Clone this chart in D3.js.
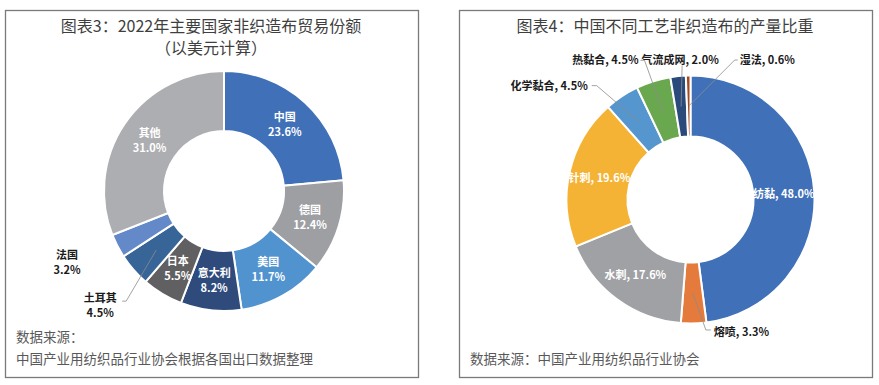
<!DOCTYPE html>
<html>
<head>
<meta charset="utf-8">
<script src="https://cdn.jsdelivr.net/npm/d3@7"></script>
<style>
  html, body { margin: 0; padding: 0; background: #fff; }
  svg { display: block; font-family: "Noto Sans CJK SC", "Noto Sans", sans-serif; }
</style>
</head>
<body>
<svg id="chart" width="879" height="385"></svg>
<script>
// chart 3: trade share by country
var tradeCountries = ['中国', '德国', '美国', '意大利', '日本', '土耳其', '法国', '其他'];
var tradeShares = [23.6, 12.4, 11.7, 8.2, 5.5, 4.5, 3.2, 31.0];

// chart 4: output share by process
var processNames = ['纺黏', '熔喷', '水刺', '针刺', '化学黏合', '热黏合', '气流成网', '湿法'];
var processShares = [48.0, 3.3, 17.6, 19.6, 4.5, 4.5, 2.0, 0.6];

var tradeColors = ['#3f70b8', '#9e9fa3', '#5193cf', '#2e4b7c', '#606062', '#376597', '#6389c9', '#adaeb1'];
var processColors = ['#3f70b8', '#e47a3b', '#a0a1a5', '#f5b335', '#5596cf', '#6aa84f', '#2b4a7c', '#a24a1c'];

var svg = d3.select('#chart');

// panel frames
[[5, 10, 413, 367], [459, 10, 413, 367]].forEach(function (r) {
  svg.append('rect')
    .attr('x', r[0] + 0.5).attr('y', r[1] + 0.5)
    .attr('width', r[2]).attr('height', r[3])
    .attr('fill', 'none').attr('stroke', '#7a7a7a').attr('stroke-width', 1.3);
});

function title(lines, x, y0) {
  lines.forEach(function (t, i) {
    svg.append('text')
      .attr('x', x).attr('y', y0 + i * 22)
      .attr('text-anchor', 'middle')
      .attr('font-size', 16)
      .attr('fill', '#3f3f3f')
      .text(t);
  });
}

function footer(lines, x, y0) {
  lines.forEach(function (t, i) {
    svg.append('text')
      .attr('x', x).attr('y', y0 + i * 22)
      .attr('font-size', 13.5)
      .attr('fill', '#595959')
      .text(t);
  });
}

function donut(cfg) {
  var g = svg.append('g').attr('transform', 'translate(' + cfg.cx + ',' + cfg.cy + ')');
  var pie = d3.pie().sort(null).value(function (d) { return d.value; });
  var arc = d3.arc().innerRadius(cfg.inner).outerRadius(cfg.outer);
  var mid = d3.arc().innerRadius((cfg.inner + cfg.outer) / 2).outerRadius((cfg.inner + cfg.outer) / 2);
  var rows = cfg.names.map(function (n, i) { return { name: n, value: cfg.values[i] }; });
  var arcs = pie(rows);

  g.selectAll('path.slice')
    .data(arcs)
    .join('path')
    .attr('class', 'slice')
    .attr('d', arc)
    .attr('fill', function (d, i) { return cfg.colors[i]; })
    .attr('stroke', '#fff')
    .attr('stroke-width', 2);

  arcs.forEach(function (d) {
    var c = mid.centroid(d);
    var call = cfg.callouts[d.data.name];
    var txt = cfg.format(d.data);
    if (!call) {
      var t = g.append('text')
        .attr('text-anchor', 'middle')
        .attr('font-size', 11).attr('font-weight', 700)
        .attr('fill', '#fff');
      txt.forEach(function (s, i) {
        t.append('tspan')
          .attr('x', c[0])
          .attr('y', c[1] + 4 + (i - (txt.length - 1) / 2) * 15)
          .text(s);
      });
      return;
    }
    if (call.line) {
      var pts = [c].concat(call.line.map(function (p) { return [c[0] + p[0], c[1] + p[1]]; }));
      g.append('path')
        .attr('d', d3.line()(pts))
        .attr('fill', 'none').attr('stroke', '#8c8c8c').attr('stroke-width', 0.8);
    }
    var lt = g.append('text')
      .attr('text-anchor', call.anchor || 'middle')
      .attr('font-size', 11).attr('font-weight', 700)
      .attr('fill', '#1a1a1a');
    txt.forEach(function (s, i) {
      lt.append('tspan')
        .attr('x', c[0] + call.dx)
        .attr('y', c[1] + call.dy + 4 + (i - (txt.length - 1) / 2) * 15)
        .text(s);
    });
  });
}

title(['图表3：2022年主要国家非织造布贸易份额', '（以美元计算）'], 211, 32);
footer(['数据来源：', '中国产业用纺织品行业协会根据各国出口数据整理'], 16, 342);

donut({
  cx: 224, cy: 191, inner: 60, outer: 120,
  names: tradeCountries, values: tradeShares, colors: tradeColors,
  format: function (d) { return [d.name, d.value.toFixed(1) + '%']; },
  callouts: {
    '土耳其': { dx: -56, dy: 55, line: [[-30, 51], [-34, 51]] },
    '法国': { dx: -77, dy: 30 }
  }
});

title(['图表4：中国不同工艺非织造布的产量比重'], 665, 32);
footer(['数据来源：中国产业用纺织品行业协会'], 470, 364);

donut({
  cx: 690.5, cy: 199.5, inner: 63, outer: 124,
  names: processNames, values: processShares, colors: processColors,
  format: function (d) { return [d.name + ', ' + d.value.toFixed(1) + '%']; },
  callouts: {
    '熔喷': { dx: 21, dy: 39, anchor: 'start', line: [[13, 37], [18, 37]] },
    '化学黏合': { dx: -51, dy: -36, anchor: 'end', line: [[-42, -36], [-47, -36]] },
    '热黏合': { dx: -24, dy: -50, anchor: 'end', line: [[-18, -50], [-22, -50]] },
    '气流成网': { dx: -1, dy: -46, line: [[1, -41]] },
    '湿法': { dx: 51, dy: -46, anchor: 'start', line: [[46, -46], [49, -46]] }
  }
});
</script>
</body>
</html>
